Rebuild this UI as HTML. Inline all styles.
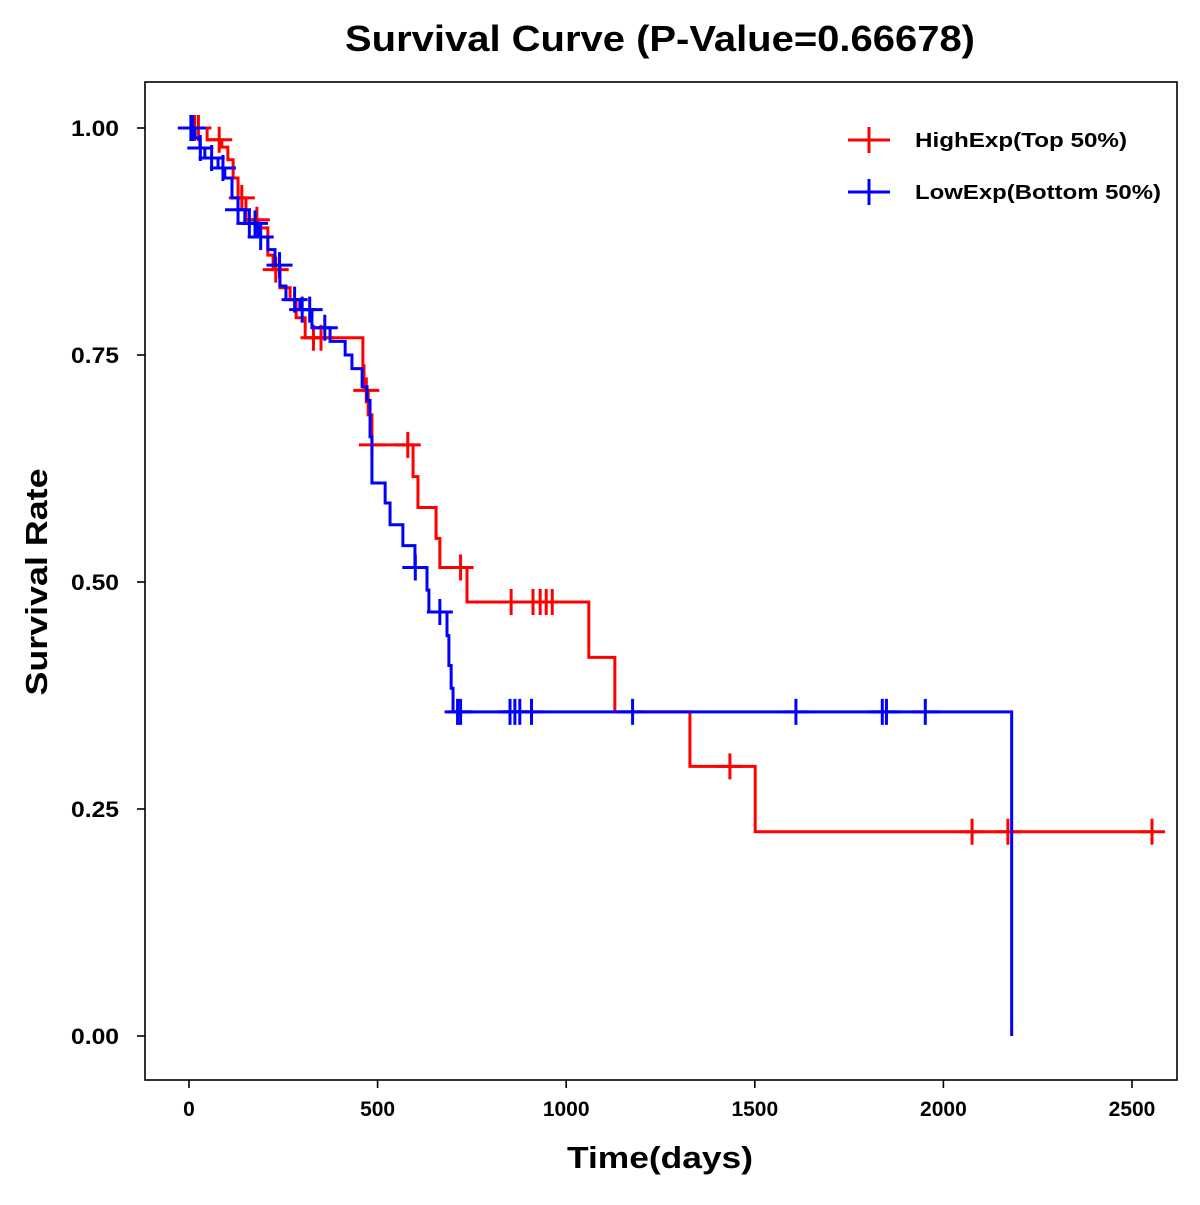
<!DOCTYPE html>
<html><head><meta charset="utf-8"><style>
body{margin:0;background:#fff}
svg text{font-family:"Liberation Sans",Arial,sans-serif;font-weight:bold;fill:#000}
</style></head><body>
<svg id="c" width="1200" height="1200">
<text x="660" y="51" font-size="36" text-anchor="middle" textLength="630" lengthAdjust="spacingAndGlyphs">Survival Curve (P-Value=0.66678)</text>
<rect x="145" y="82" width="1032" height="998" fill="none" stroke="#000" stroke-width="1.6"/>
<g id="axes"></g>
<g id="series"></g>
<text x="660" y="1168" font-size="31" text-anchor="middle" textLength="186" lengthAdjust="spacingAndGlyphs">Time(days)</text>
<text transform="translate(47,582) rotate(-90)" font-size="31" text-anchor="middle" textLength="227" lengthAdjust="spacingAndGlyphs">Survival Rate</text>
<g>
<g><line x1="848" y1="140" x2="890" y2="140" stroke="#f00" stroke-width="3"/><line x1="869" y1="127" x2="869" y2="153" stroke="#f00" stroke-width="3"/><text x="915" y="147" font-size="20" textLength="212" lengthAdjust="spacingAndGlyphs">HighExp(Top 50%)</text></g>
<g><line x1="848" y1="192" x2="890" y2="192" stroke="#00f" stroke-width="3"/><line x1="869" y1="179" x2="869" y2="205" stroke="#00f" stroke-width="3"/><text x="915" y="199" font-size="20" textLength="246" lengthAdjust="spacingAndGlyphs">LowExp(Bottom 50%)</text></g>
</g>
</svg>
<script>
const xTicks=[0,500,1000,1500,2000,2500];
const yTicks=[0,0.25,0.5,0.75,1.0];
const yTickLabels=["0.00","0.25","0.50","0.75","1.00"];
const highTimes=[48,87,103,117,130,151,183,209,223,241,268,284,308,461,464,475,485,594,607,655,665,737,1060,1129,1328,1501];
const highSurv=[0.987,0.979,0.965,0.945,0.923,0.899,0.890,0.860,0.844,0.824,0.811,0.791,0.769,0.738,0.711,0.684,0.651,0.616,0.582,0.548,0.516,0.478,0.417,0.357,0.297,0.225];
const highCensor=[15,25,80,140,180,230,330,350,470,485,580,720,854,912,931,947,963,1434,2076,2171,2553];
const highEnd=2553;
const lowTimes=[16,29,42,77,95,114,130,148,183,209,228,241,257,294,326,374,414,432,459,472,480,485,520,533,567,599,631,636,684,689,695,700,2181];
const lowSurv=[0.989,0.978,0.967,0.956,0.945,0.923,0.910,0.895,0.880,0.866,0.849,0.826,0.811,0.800,0.780,0.765,0.750,0.735,0.715,0.700,0.660,0.609,0.587,0.563,0.540,0.516,0.491,0.467,0.441,0.408,0.383,0.357,0];
const lowCensor=[5,10,30,60,90,130,160,175,190,240,280,300,320,360,600,665,712,720,851,864,877,908,1176,1609,1838,1849,1952];
const lowEnd=2181;

const X=t=>189+t*0.3772, Y=s=>1036-s*908;
const NS="http://www.w3.org/2000/svg";
function mk(tag,attrs,parent){const e=document.createElementNS(NS,tag);for(const k in attrs)e.setAttribute(k,attrs[k]);parent.appendChild(e);return e;}
const ax=document.getElementById('axes');
xTicks.forEach(t=>{
  const l=mk('line',{x1:X(t),x2:X(t),y1:1080,y2:1088,stroke:'#000','stroke-width':1.6},ax);
  
  
  const tx=mk('text',{x:X(t),y:1116,'font-size':21,'text-anchor':'middle'},ax);tx.textContent=t;
  
  
});
yTicks.forEach((v,i)=>{
  const l=mk('line',{x1:137,x2:145,y1:Y(v),y2:Y(v),stroke:'#000','stroke-width':1.6},ax);
  
  
  const tx=mk('text',{x:119,y:Y(v)+8,'font-size':22,'text-anchor':'end',textLength:48,lengthAdjust:'spacingAndGlyphs'},ax);tx.textContent=yTickLabels[i];
  
  
});
const sg=document.getElementById('series');
function surv(times,svals,t){let s=1;for(let i=0;i<times.length;i++){if(times[i]<=t)s=svals[i];}return s;}
function draw(times,svals,cens,end,color,name){
  let d=`M${X(0)},${Y(1)}`;
  for(let i=0;i<times.length;i++){d+=` H${X(times[i])} V${Y(svals[i])}`;}
  if(end>times[times.length-1])d+=` H${X(end)}`;
  const p=mk('path',{d:d,fill:'none',stroke:color,'stroke-width':3},sg);
  
  
  cens.forEach(t=>{
    const v=surv(times,svals,t),cx=X(t),cy=Y(v);
    const g=mk('path',{d:`M${cx-13},${cy} H${cx+13} M${cx},${cy-13} V${cy+13}`,stroke:color,'stroke-width':3},sg);
    
    
  });
}
draw(highTimes,highSurv,highCensor,highEnd,'#f00','high-exp');
draw(lowTimes,lowSurv,lowCensor,lowEnd,'#00f','low-exp');
</script>
</body></html>
